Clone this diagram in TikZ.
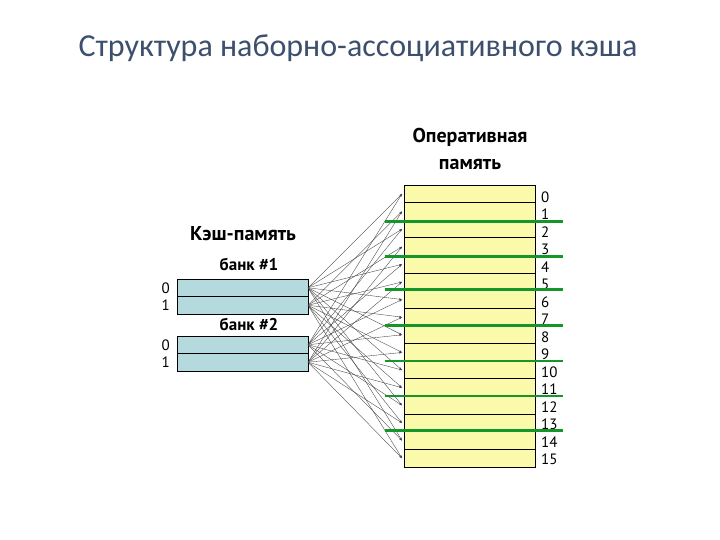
\documentclass[tikz,border=0pt]{standalone}
\usepackage{fontspec}
\setmainfont{PT Sans}
\newfontfamily\titlefont{Carlito}
\usetikzlibrary{arrows.meta}
\definecolor{memfill}{RGB}{250,250,170}
\definecolor{cachefill}{RGB}{180,218,222}
\definecolor{grn}{RGB}{20,150,40}
\definecolor{ttl}{RGB}{60,80,110}
\tikzset{
 row/.style={draw=black,line width=0.9pt,minimum width=131pt,inner sep=0pt,outer sep=0pt},
 memrow/.style={row,fill=memfill,minimum height=17.625pt},
 cacherow/.style={row,fill=cachefill,minimum height=17.5pt},
 idx/.style={font=\fontsize{15}{15}\selectfont,inner sep=0pt},
 lbl/.style={font=\bfseries\fontsize{20}{20}\selectfont,inner sep=0pt},
 bank/.style={font=\bfseries\fontsize{17}{17}\selectfont,inner sep=0pt},
 link/.style={draw=black!75,line width=0.35pt,-{Stealth[length=3pt,width=2pt]}},
 gline/.style={draw=grn,line width=2.2pt}
}
\begin{document}
\begin{tikzpicture}[x=1pt,y=-1pt]
\useasboundingbox (0,0) rectangle (720,540);
\node[font=\titlefont\fontsize{32}{32}\selectfont,text=ttl] (title) at (358,48) {Структура наборно-ассоциативного кэша};
\node[lbl] (op1) at (470,137) {Оперативная};
\node[lbl] (op2) at (470,164) {память};
\node[lbl] (ck) at (243,234) {Кэш-память};
\node[bank] (b1) at (249,264) {банк \#1};
\node[bank] (b2) at (249,324) {банк \#2};
\foreach \i in {0,...,15}{
  \node[memrow] (m\i) at (469.5,{185+17.625*(\i+0.5)}) {};
  \node[idx,anchor=west] (n\i) at (541,{197+17.5*\i}) {\i};
}
\node[cacherow] (c10) at (242.5,287.75) {};
\node[cacherow] (c11) at (242.5,305.25) {};
\node[cacherow] (c20) at (242.5,344.75) {};
\node[cacherow] (c21) at (242.5,362.25) {};
\foreach \n/\t in {c10/0,c11/1,c20/0,c21/1}{
  \node[idx,anchor=east] (l\n) at ([xshift=-7pt]\n.west) {\t};
}
\foreach \i in {0,2,...,14}{
  \draw[link] (c10.east) -- ([xshift=-2pt]m\i.west);
  \draw[link] (c20.east) -- ([xshift=-2pt]m\i.west);
}
\foreach \i in {1,3,...,15}{
  \draw[link] (c11.east) -- ([xshift=-2pt]m\i.west);
  \draw[link] (c21.east) -- ([xshift=-2pt]m\i.west);
}
\foreach \k/\y in {1/221.5,2/256.5,3/289.5,4/325.5,5/361,6/396,7/430.5}{
  \coordinate (gl\k) at (385,\y);
  \coordinate (gr\k) at (563,\y);
  \draw[gline] (gl\k) -- (gr\k);
}
\end{tikzpicture}
\end{document}
